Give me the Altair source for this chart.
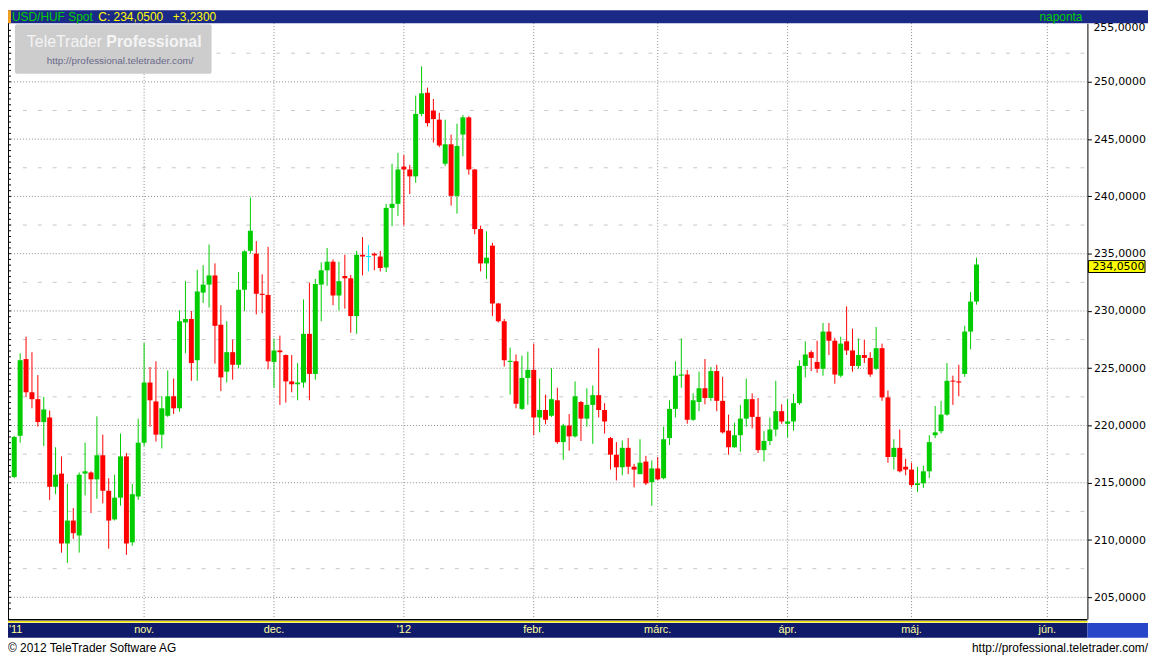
import altair as alt
import pandas as pd

# ---------------- data ----------------
opens = [215.5, 219.1, 225.8, 222.9, 222.3, 220.3, 220.7, 214.65, 215.8, 209.7,
         211.7, 210.4, 215.8, 215.9, 215.3, 217.4, 214.3, 211.8, 213.7, 217.3,
         209.8, 213.8, 218.5, 223.75, 222.1, 219.2, 220.85, 222.55, 221.5, 229.0,
         229.3, 225.7, 231.6, 232.3, 233.1, 228.8, 224.7, 226.4, 225.3, 231.85,
         235.25, 235.0, 231.5, 231.4, 225.55, 226.55, 226.15, 223.85, 223.6, 223.75,
         228.0, 224.5, 232.3, 233.55, 234.3, 231.35, 233.05, 232.85, 229.55, 234.9,
         234.75, 235.0, 234.75, 233.8, 239.0, 239.35, 242.6, 242.35, 241.75, 247.2,
         249.05, 247.5, 246.7, 242.85, 244.55, 240.05, 245.4, 246.9, 242.35, 237.15,
         234.15, 235.7, 230.65, 229.1, 225.55, 225.6, 221.45, 224.15, 224.85, 220.7,
         221.35, 220.85, 222.2, 218.55, 220.0, 219.05, 222.05, 220.6, 221.8, 222.65,
         221.35, 218.9, 217.45, 216.35, 218.05, 216.4, 215.75, 216.85, 215.05, 216.25,
         215.4, 218.9, 221.45, 224.35, 224.45, 220.5, 222.05, 223.25, 222.4, 224.75,
         222.15, 219.55, 218.1, 219.15, 220.6, 222.3, 220.75, 217.85, 218.65, 219.65,
         221.25, 220.15, 220.35, 221.95, 225.2, 226.4, 225.55, 224.95, 228.2, 227.4,
         224.35, 227.35, 226.55, 225.2, 226.15, 225.9, 224.95, 226.75, 222.45, 217.25,
         218.05, 216.4, 216.15, 214.8, 214.95, 216.0, 219.15, 219.5, 220.95, 223.9,
         223.85, 224.5, 228.2, 230.82]
highs = [219.1, 226.3, 227.75, 226.4, 224.4, 222.5, 221.3, 218.1, 217.3, 214.9,
         212.8, 215.9, 218.5, 216.0, 220.8, 219.2, 215.4, 215.7, 219.3, 217.6,
         214.9, 220.6, 227.2, 225.1, 225.6, 222.55, 224.8, 224.1, 230.05, 232.6,
         230.0, 233.6, 234.0, 235.8, 234.15, 230.5, 229.1, 227.5, 233.4, 235.3,
         239.9, 236.1, 233.2, 235.6, 227.6, 227.85, 226.2, 226.15, 225.45, 231.0,
         232.45, 232.8, 234.25, 235.5, 234.5, 234.3, 234.9, 233.15, 235.25, 236.45,
         235.75, 235.1, 235.25, 239.35, 242.85, 243.8, 243.6, 242.75, 248.8, 251.35,
         249.5, 248.5, 247.3, 246.7, 245.4, 246.35, 247.1, 247.0, 242.4, 237.45,
         236.95, 235.95, 230.7, 229.3, 226.8, 226.2, 226.1, 226.45, 227.15, 224.1,
         222.7, 225.0, 223.3, 220.15, 221.0, 223.85, 222.15, 223.25, 223.5, 226.75,
         221.95, 219.0, 218.55, 218.7, 218.9, 216.65, 218.8, 217.35, 216.95, 217.25,
         219.9, 222.2, 225.6, 227.6, 224.85, 222.8, 224.7, 225.8, 225.1, 225.3,
         224.25, 220.95, 220.25, 221.8, 224.1, 222.8, 222.4, 219.5, 220.7, 223.9,
         221.85, 222.3, 222.75, 225.7, 227.35, 226.55, 227.4, 228.95, 228.95, 227.65,
         227.75, 230.4, 228.45, 227.6, 227.5, 226.4, 228.6, 227.15, 223.05, 218.8,
         219.65, 217.1, 216.75, 216.4, 216.5, 219.15, 221.7, 222.15, 225.45, 224.35,
         225.3, 228.7, 231.65, 234.65]
lows = [215.4, 218.5, 222.5, 221.5, 219.9, 218.2, 213.5, 214.0, 208.9, 208.0,
        210.1, 208.9, 213.9, 212.35, 213.6, 213.2, 209.25, 211.7, 213.0, 208.7,
        209.5, 213.5, 218.2, 219.9, 218.6, 218.0, 220.75, 221.0, 221.2, 226.3,
        223.9, 223.9, 230.7, 230.3, 225.4, 223.0, 223.75, 224.0, 225.0, 230.0,
        235.0, 229.7, 229.8, 224.9, 223.3, 221.8, 222.0, 222.9, 222.2, 223.3,
        222.2, 224.0, 229.1, 232.2, 230.5, 230.05, 230.2, 228.1, 228.0, 233.1,
        233.45, 233.55, 233.45, 233.4, 237.4, 238.3, 237.45, 240.2, 241.2, 247.0,
        246.1, 244.7, 244.3, 242.65, 239.2, 238.5, 243.5, 241.9, 236.7, 233.45,
        232.8, 229.55, 229.0, 225.15, 222.7, 221.5, 221.35, 221.8, 219.15, 219.4,
        220.1, 220.75, 218.4, 217.0, 217.8, 218.95, 218.65, 219.9, 218.4, 220.7,
        219.3, 216.15, 215.2, 215.65, 215.75, 214.6, 215.75, 214.8, 213.0, 215.2,
        215.3, 218.3, 220.7, 223.3, 220.15, 220.4, 221.25, 221.85, 222.15, 221.25,
        219.3, 217.45, 218.05, 217.7, 219.9, 219.75, 217.6, 216.85, 218.3, 219.05,
        220.15, 218.95, 219.55, 221.8, 224.2, 224.75, 224.6, 224.35, 226.15, 223.65,
        224.2, 226.15, 224.7, 224.95, 225.45, 224.25, 224.85, 222.15, 216.75, 216.15,
        215.9, 215.65, 214.6, 214.2, 214.55, 215.4, 218.9, 219.3, 220.85, 221.8,
        222.55, 224.25, 226.65, 230.55]
closes = [219.0, 225.7, 222.9, 222.3, 220.3, 221.4, 214.65, 215.7, 209.7, 211.7,
          210.6, 215.7, 216.0, 215.3, 217.4, 214.3, 211.7, 213.7, 217.3, 209.7,
          214.0, 218.5, 223.75, 222.2, 219.2, 221.5, 222.55, 221.5, 229.1, 229.3,
          225.45, 231.7, 232.3, 233.1, 228.7, 224.2, 226.4, 225.3, 231.85, 235.2,
          237.0, 231.5, 231.4, 225.6, 226.55, 226.4, 223.85, 223.6, 223.75, 228.0,
          224.5, 232.35, 233.55, 234.3, 231.35, 232.6, 232.85, 229.55, 234.9, 234.75,
          234.75, 234.85, 233.75, 239.0, 239.35, 242.35, 242.35, 241.75, 247.2, 249.0,
          246.4, 246.75, 244.45, 244.55, 240.05, 244.4, 246.9, 242.35, 237.15, 234.15,
          234.65, 230.65, 229.1, 225.7, 225.65, 221.9, 224.15, 224.85, 220.7, 221.35,
          220.5, 222.3, 218.55, 220.0, 219.05, 222.55, 220.6, 221.8, 222.65, 221.35,
          220.35, 217.45, 216.35, 218.05, 216.4, 216.15, 216.75, 214.95, 216.25, 215.3,
          218.8, 221.45, 224.35, 224.45, 220.5, 222.2, 223.25, 222.4, 224.75, 222.15,
          219.4, 218.1, 219.15, 220.6, 222.3, 220.75, 217.85, 218.65, 219.65, 221.25,
          220.35, 220.35, 221.95, 225.2, 226.2, 225.9, 224.95, 228.2, 227.4, 224.45,
          227.15, 226.55, 225.2, 226.15, 225.9, 224.45, 226.75, 222.45, 217.25, 218.05,
          216.0, 216.15, 214.8, 214.95, 216.0, 218.55, 219.4, 220.95, 223.9, 223.85,
          223.75, 228.2, 230.82, 234.05]

month_labels = ["nov.", "dec.", "'12", "febr.", "márc.", "ápr.", "máj.", "jún."]
month_start_index = [22, 44, 66, 88, 109, 131, 152, 175]
first_label = "'11"
y_major = [205, 210, 215, 220, 225, 230, 235, 240, 245, 250]
y_top_label = "255,0000"
y_minor = [207.5, 212.5, 217.5, 222.5, 227.5, 232.5, 237.5, 242.5, 247.5, 252.5]
y_grid = [205, 210, 215, 220, 225, 230, 235, 240, 245, 250]
y_edge_ticks = [204 + 0.5 * j for j in range(102)]
last_price = 234.05
last_price_text = "234,0500"
header_name = "USD/HUF Spot"
header_close = "C: 234,0500"
header_change = "+3,2300"
header_period = "naponta"

# ---------------- tables ----------------
rows = []
for i, (o, h, l, c) in enumerate(zip(opens, highs, lows, closes)):
    d = "up" if c > o else ("down" if c < o else "flat")
    top, bot = max(o, c), min(o, c)
    if top - bot < 0.09:
        m = (top + bot) / 2
        top, bot = m + 0.045, m - 0.045
    rows.append(dict(i=i, open=o, high=h, low=l, close=c, dir=d, top=top, bot=bot))
candles = pd.DataFrame(rows)

W, H = 1087, 600
xs = alt.Scale(domain=[-0.2167, 180.95], nice=False, zero=False)
ys = alt.Scale(domain=[203.54, 254.69], nice=False, zero=False)
yaxis = alt.Axis(orient="right", values=y_major, title=None, grid=False,
                 labelExpr="replace(format(datum.value, '.4f'), '.', ',')",
                 labelFont="DejaVu Sans", labelFontSize=11, labelColor="#000000",
                 labelAlign="left", labelPadding=2, tickSize=4, tickColor="#000000",
                 domainColor="#000000", labelOverlap=False)
colr = alt.Color("dir:N", legend=None,
                 scale=alt.Scale(domain=["up", "down", "flat"],
                                 range=["#00cc00", "#ff0000", "#00e5ff"]))

minor_df = pd.DataFrame({"v": y_minor})
major_df = pd.DataFrame({"v": y_grid})
edge_df = pd.DataFrame({"v": [v for v in y_edge_ticks if 203.6 < v < 254.6]})
month_df = pd.DataFrame({"i": month_start_index, "label": month_labels})

minor = alt.Chart(minor_df).mark_rule(color="#c8c8c8", strokeDash=[4, 11], strokeWidth=1).encode(
    y=alt.Y("v:Q", scale=ys, axis=yaxis), x=alt.value(0), x2=alt.value(W))
major = alt.Chart(major_df).mark_rule(color="#8c8c8c", strokeDash=[1, 2], strokeWidth=1).encode(
    y=alt.Y("v:Q", scale=ys, axis=yaxis), x=alt.value(0), x2=alt.value(W))
edge_ticks = alt.Chart(edge_df).mark_rule(color="#000000", strokeWidth=1).encode(
    y=alt.Y("v:Q", scale=ys, axis=yaxis), x=alt.value(0), x2=alt.value(3))
vlines = alt.Chart(month_df).mark_rule(color="#8c8c8c", strokeDash=[1, 2], strokeWidth=1).encode(
    x=alt.X("i:Q", scale=xs, axis=None), y=alt.value(0), y2=alt.value(H))

wicks = alt.Chart(candles).mark_rule(strokeWidth=1).encode(
    x=alt.X("i:Q", scale=xs, axis=None),
    y=alt.Y("low:Q", scale=ys, axis=yaxis), y2="high:Q", color=colr)
bodies = alt.Chart(candles).mark_bar(size=5).encode(
    x=alt.X("i:Q", scale=xs, axis=None),
    y=alt.Y("bot:Q", scale=ys, axis=yaxis), y2="top:Q", color=colr)

one = pd.DataFrame({"a": [0]})

def box(x1, x2, y1, y2, fill, **kw):
    return alt.Chart(one).mark_rect(color=fill, **kw).encode(
        x=alt.value(x1), x2=alt.value(x2), y=alt.value(y1), y2=alt.value(y2))

def txt(s, x, y, color, size=12, align="left", font="Liberation Sans", weight="normal"):
    return alt.Chart(pd.DataFrame({"t": [s]})).mark_text(
        align=align, baseline="middle", font=font, fontSize=size, color=color,
        fontWeight=weight).encode(text="t:N", x=alt.value(x), y=alt.value(y))

# frame / bars
top_bar = box(0, 1148, -13, 0, "#1b2a86")
top_orange = box(0, 3, -13, 0, "#f0a020")
left_line = alt.Chart(one).mark_rule(color="#000000").encode(
    x=alt.value(0.5), y=alt.value(0), y2=alt.value(H))
bottom_black = box(0, W, 600, 601.5, "#000000")
bottom_yellow = box(0, W, 602, 603.5, "#f0e000")
bottom_bar = box(0, W, 604, 619, "#101a6a")
bottom_right = box(W, 1148, 604, 619, "#2846c8")
month_text = alt.Chart(month_df).mark_text(
    align="center", baseline="middle", font="Liberation Sans", fontSize=11,
    color="#ffff99").encode(x=alt.X("i:Q", scale=xs, axis=None), text="label:N",
                            y=alt.value(611.5))
first_month = txt(first_label, 1, 611.5, "#ffff99", size=11)

hdr1 = txt(header_name, 4, -6.5, "#00d000", size=12)
hdr2 = txt(header_close, 91, -6.5, "#ffff00", size=12)
hdr3 = txt(header_change, 166, -6.5, "#ffff00", size=12)
hdr4 = txt(header_period, 1082, -6.5, "#00d000", size=12, align="right")

top_label = txt(y_top_label, W + 6, 5, "#000000", size=11, font="DejaVu Sans")

foot1 = txt("© 2012 TeleTrader Software AG", 0, 629, "#000000", size=12)
foot2 = txt("http://professional.teletrader.com/", 1148, 629, "#000000", size=12, align="right")

# watermark logo
wm_box = alt.Chart(one).mark_rect(color="#cdcdcd", cornerRadius=2).encode(
    x=alt.value(7), x2=alt.value(205), y=alt.value(1), y2=alt.value(51))
wm1 = txt("TeleTrader", 19, 19, "#f4f4f4", size=16, font="Liberation Sans")
wm2 = txt("Professional", 99, 19, "#f4f4f4", size=16, font="Liberation Sans", weight="bold")
wm3 = txt("http://professional.teletrader.com/", 39, 38, "#6a6a8a", size=10)

# last price marker on the axis
price_df = pd.DataFrame({"p": [last_price], "t": [last_price_text]})
price_box = alt.Chart(price_df).mark_bar(color="#ffff00", stroke="#000000", strokeWidth=1, size=12,
                                        orient="horizontal", yOffset=2).encode(
    y=alt.Y("p:Q", scale=ys, axis=yaxis), x=alt.value(W + 1), x2=alt.value(W + 58))
price_txt = alt.Chart(price_df).mark_text(align="left", baseline="middle", font="DejaVu Sans",
                                          fontSize=11, color="#000000", dy=2).encode(
    y=alt.Y("p:Q", scale=ys, axis=yaxis), x=alt.value(W + 5), text="t:N")

chart = alt.layer(
    minor, major, vlines, edge_ticks, wicks, bodies,
    top_bar, top_orange, hdr1, hdr2, hdr3, hdr4, top_label,
    left_line, bottom_black, bottom_yellow, bottom_bar, bottom_right,
    month_text, first_month, foot1, foot2,
    wm_box, wm1, wm2, wm3,
    price_box, price_txt,
).properties(
    width=W, height=H,
    autosize=alt.AutoSizeParams(type="none"),
    padding={"left": 0, "top": 13, "right": 61, "bottom": 38},
    background="#ffffff",
).configure_view(strokeWidth=0)

chart.save("out.html", embed_options={"renderer": "svg", "actions": False})
